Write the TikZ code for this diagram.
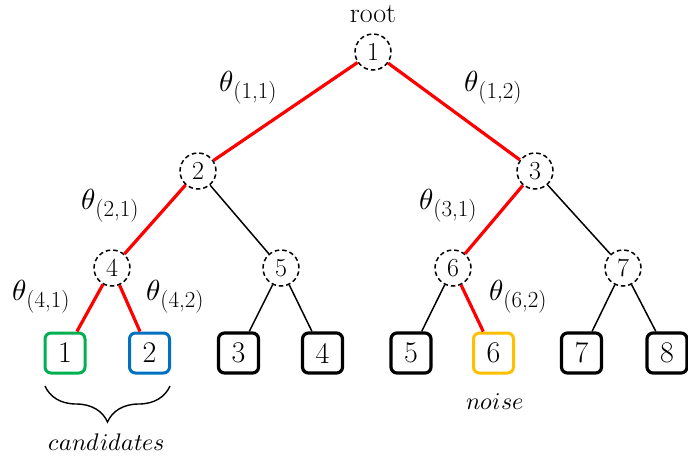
\documentclass[tikz,border=0pt]{standalone}
\usepackage{unicode-math}
\usetikzlibrary{decorations.pathreplacing}
\definecolor{redline}{RGB}{255,0,0}
\definecolor{cgreen}{RGB}{0,176,80}
\definecolor{cblue}{RGB}{0,112,192}
\definecolor{corange}{RGB}{255,192,0}
\tikzset{
  inner/.style={circle, draw, dashed, dash pattern=on 4.5pt off 3pt, line width=1.5pt, minimum size=36pt, inner sep=0pt, fill=white, font=\fontsize{26}{28}\selectfont},
  leaf/.style={rectangle, draw, rounded corners=6pt, line width=3.2pt, minimum size=40pt, inner sep=0pt, fill=white, font=\fontsize{30}{32}\selectfont},
  redge/.style={draw=redline, line width=3.2pt},
  bedge/.style={draw=black, line width=1.5pt},
  lbl/.style={inner sep=0pt},
  itl/.style={inner sep=0pt, font=\fontsize{24}{26}\selectfont}
}
\newcommand{\thlab}[1]{{\fontsize{29}{30}\selectfont$\theta$}\raisebox{-7pt}{\fontsize{23}{24}\selectfont(#1)}}
\begin{document}
\begin{tikzpicture}[x=1pt,y=-1pt]
\useasboundingbox (0,0) rectangle (688,459);
% inner nodes
\node[inner] (n1) at (373,52) {1};
\node[inner] (n2) at (198,171) {2};
\node[inner] (n3) at (535,171) {3};
\node[inner] (n4) at (112,268) {4};
\node[inner] (n5) at (281,268) {5};
\node[inner] (n6) at (453,268) {6};
\node[inner] (n7) at (623,268) {7};
% leaves
\node[leaf, draw=cgreen, line width=3pt] (l1) at (65,353) {1};
\node[leaf, draw=cblue, line width=3pt] (l2) at (149.5,353) {2};
\node[leaf] (l3) at (238.5,353) {3};
\node[leaf] (l4) at (322.5,353) {4};
\node[leaf] (l5) at (411,353) {5};
\node[leaf, draw=corange, line width=3pt] (l6) at (493.5,353) {6};
\node[leaf] (l7) at (581.5,353) {7};
\node[leaf] (l8) at (667,353) {8};
% edges
\draw[redge] (n1) -- (n2);
\draw[redge] (n1) -- (n3);
\draw[redge] (n2) -- (n4);
\draw[bedge] (n2) -- (n5);
\draw[redge] (n3) -- (n6);
\draw[bedge] (n3) -- (n7);
\draw[redge] (n4) -- (l1);
\draw[redge] (n4) -- (l2);
\draw[bedge] (n5) -- (l3);
\draw[bedge] (n5) -- (l4);
\draw[bedge] (n6) -- (l5);
\draw[redge] (n6) -- (l6);
\draw[bedge] (n7) -- (l7);
\draw[bedge] (n7) -- (l8);
% labels
\node[lbl, font=\fontsize{28}{30}\selectfont] (root) at (373,14) {root};
\node[lbl] (t11) at (248,88) {\thlab{1,1}};
\node[lbl] (t12) at (493,88) {\thlab{1,2}};
\node[lbl] (t21) at (110,206) {\thlab{2,1}};
\node[lbl] (t31) at (448,206) {\thlab{3,1}};
\node[lbl] (t41) at (41,297) {\thlab{4,1}};
\node[lbl] (t42) at (175,297) {\thlab{4,2}};
\node[lbl] (t62) at (518,297) {\thlab{6,2}};
% brace and notes
\coordinate (bl) at (45,386);
\coordinate (br) at (170,386);
\draw[line width=1.4pt, decorate, decoration={brace, mirror, amplitude=36pt}] (bl) -- (br);
\node[itl] (cand) at (107,442) {$candidates$};
\node[itl] (noise) at (495,402) {$noise$};
\end{tikzpicture}
\end{document}
